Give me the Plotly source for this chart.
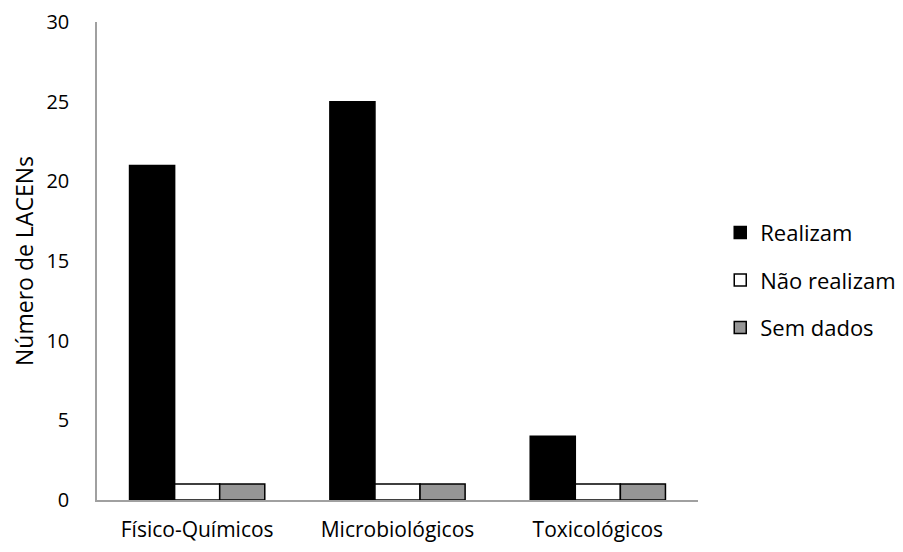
import plotly.graph_objects as go

categories = ["Físico-Químicos", "Microbiológicos", "Toxicológicos"]
series_names = ["Realizam", "Não realizam", "Sem dados"]
realizam = [21, 25, 4]
nao_realizam = [1, 1, 1]
sem_dados = [1, 1, 1]
colors = ["#000000", "#FFFFFF", "#969696"]

fig = go.Figure()
for name, vals, col in zip(series_names, [realizam, nao_realizam, sem_dados], colors):
    fig.add_trace(go.Bar(
        x=categories, y=vals, name=name, legendgroup=name,
        marker=dict(color=col, line=dict(color="#000000", width=1.5)),
    ))

font_family = "Open Sans, DejaVu Sans, sans-serif"
fig.update_layout(
    width=903, height=552,
    margin=dict(l=89, r=213, t=14, b=60, autoexpand=False),
    barmode="group", bargap=0.325, bargroupgap=0,
    plot_bgcolor="white", paper_bgcolor="white",
    font=dict(family=font_family, size=20, color="#000000"),
    showlegend=True,
    legend=dict(x=1.037, y=0.46, xanchor="left", yanchor="middle",
                font=dict(size=22), tracegroupgap=16, itemwidth=30,
                traceorder="grouped"),
    xaxis=dict(showline=True, linecolor="#A0A0A0", linewidth=1.5,
               ticks="outside", ticklen=10, tickcolor="rgba(0,0,0,0)",
               showgrid=False, tickfont=dict(size=21), automargin=False),
    yaxis=dict(range=[0, 30], dtick=5, showline=True, linecolor="#A0A0A0",
               linewidth=1.5, showgrid=False, zeroline=False,
               ticks="outside", ticklen=22, tickcolor="rgba(0,0,0,0)",
               tickfont=dict(size=20), automargin=False,
               title=dict(text="Número de LACENs", font=dict(size=23), standoff=10)),
)
fig.write_html("out.html")
